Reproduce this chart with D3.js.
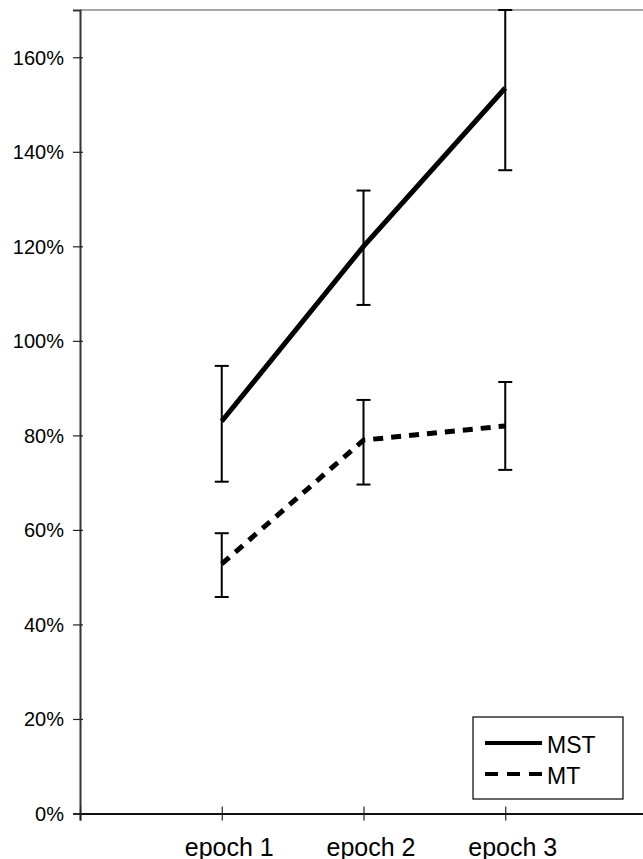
<html>
  <head>
    <style>
      body { margin: 0; background: #fff; }
      text { font-family: "Liberation Sans", Arial, sans-serif; fill: #000; }
    </style>
  </head>
  <body>
    <script src="https://d3js.org/d3.v7.min.js"></script>
    <script>
    var width = 643, height = 859;

    // chart values
    var categories = ["epoch 1", "epoch 2", "epoch 3"];
    var seriesNames = ["MST", "MT"];
    var mst = [0.83, 1.20, 1.535];
    var mstHigh = [0.947, 1.318, 1.70];
    var mstLow = [0.702, 1.076, 1.361];
    var mt = [0.528, 0.79, 0.82];
    var mtHigh = [0.593, 0.875, 0.913];
    var mtLow = [0.458, 0.696, 0.727];
    var yTicks = [0, 0.2, 0.4, 0.6, 0.8, 1.0, 1.2, 1.4, 1.6];

    var svg = d3.select("body").append("svg")
        .attr("width", width)
        .attr("height", height);

    // x: category slots, points sit on the tick marks (slot 0 is the y axis)
    var x = d3.scaleLinear().domain([0, categories.length + 1]).range([80, 647]);
    var y = d3.scaleLinear().domain([0, 1.7]).range([813.5, 10]);

    // plot frame (top edge)
    svg.append("line")
        .attr("x1", x(0)).attr("x2", width)
        .attr("y1", y(1.7)).attr("y2", y(1.7))
        .attr("stroke", "#555").attr("stroke-width", 1.2);

    // y axis
    var yAxis = svg.append("g")
        .attr("transform", "translate(" + x(0) + ",0)")
        .call(d3.axisLeft(y).tickValues(yTicks).tickSize(7)
          .tickFormat(d3.format(".0%")));
    yAxis.select(".domain").attr("stroke", "#333").attr("stroke-width", 2);
    yAxis.selectAll(".tick line").attr("x2", -7).attr("x1", 3).attr("stroke", "#222").attr("stroke-width", 1.2);
    yAxis.selectAll(".tick text").style("font-size", "20px").attr("x", -16).attr("dy", "0.35em");

    // x axis
    var xAxis = svg.append("g")
        .attr("transform", "translate(0," + y(0) + ")")
        .call(d3.axisBottom(x).tickValues(d3.range(0, categories.length + 2))
          .tickSize(7)
          .tickFormat(function(d) { return categories[d - 1] || ""; }));
    xAxis.select(".domain").attr("stroke", "#111").attr("stroke-width", 2);
    xAxis.selectAll(".tick line").attr("y1", -7).attr("y2", 7).attr("stroke", "#222").attr("stroke-width", 1.2);
    xAxis.selectAll(".tick text").style("font-size", "25px").attr("x", 7).attr("y", 42).attr("dy", null);

    var series = [
      {name: seriesNames[0], values: mst, high: mstHigh, low: mstLow, dash: null},
      {name: seriesNames[1], values: mt, high: mtHigh, low: mtLow, dash: "10,8"}
    ];

    var line = d3.line()
        .x(function(d, i) { return x(i + 1); })
        .y(function(d) { return y(d); });

    series.forEach(function(s) {
      var g = svg.append("g");
      // error bars
      s.values.forEach(function(v, i) {
        var cx = x(i + 1);
        g.append("line")
            .attr("x1", cx).attr("x2", cx)
            .attr("y1", y(s.high[i])).attr("y2", y(s.low[i]))
            .attr("stroke", "#000").attr("stroke-width", 2);
        [s.high[i], s.low[i]].forEach(function(e) {
          g.append("line")
              .attr("x1", cx - 7).attr("x2", cx + 7)
              .attr("y1", y(e)).attr("y2", y(e))
              .attr("stroke", "#000").attr("stroke-width", 2);
        });
      });
      g.append("path")
          .datum(s.values)
          .attr("d", line)
          .attr("fill", "none")
          .attr("stroke", "#000")
          .attr("stroke-width", 5)
          .attr("stroke-dasharray", s.dash);
    });

    // legend
    var legend = svg.append("g").attr("transform", "translate(473,717)");
    legend.append("rect")
        .attr("width", 150).attr("height", 82)
        .attr("fill", "#fff").attr("stroke", "#000").attr("stroke-width", 1.2);
    series.forEach(function(s, i) {
      var ly = 26 + i * 31;
      legend.append("line")
          .attr("x1", 12).attr("x2", 69)
          .attr("y1", ly).attr("y2", ly)
          .attr("stroke", "#000").attr("stroke-width", 4)
          .attr("stroke-dasharray", s.dash ? "13,9" : null);
      legend.append("text")
          .attr("x", 74).attr("y", ly + 10)
          .style("font-size", "23px")
          .text(s.name);
    });
    </script>
  </body>
</html>
